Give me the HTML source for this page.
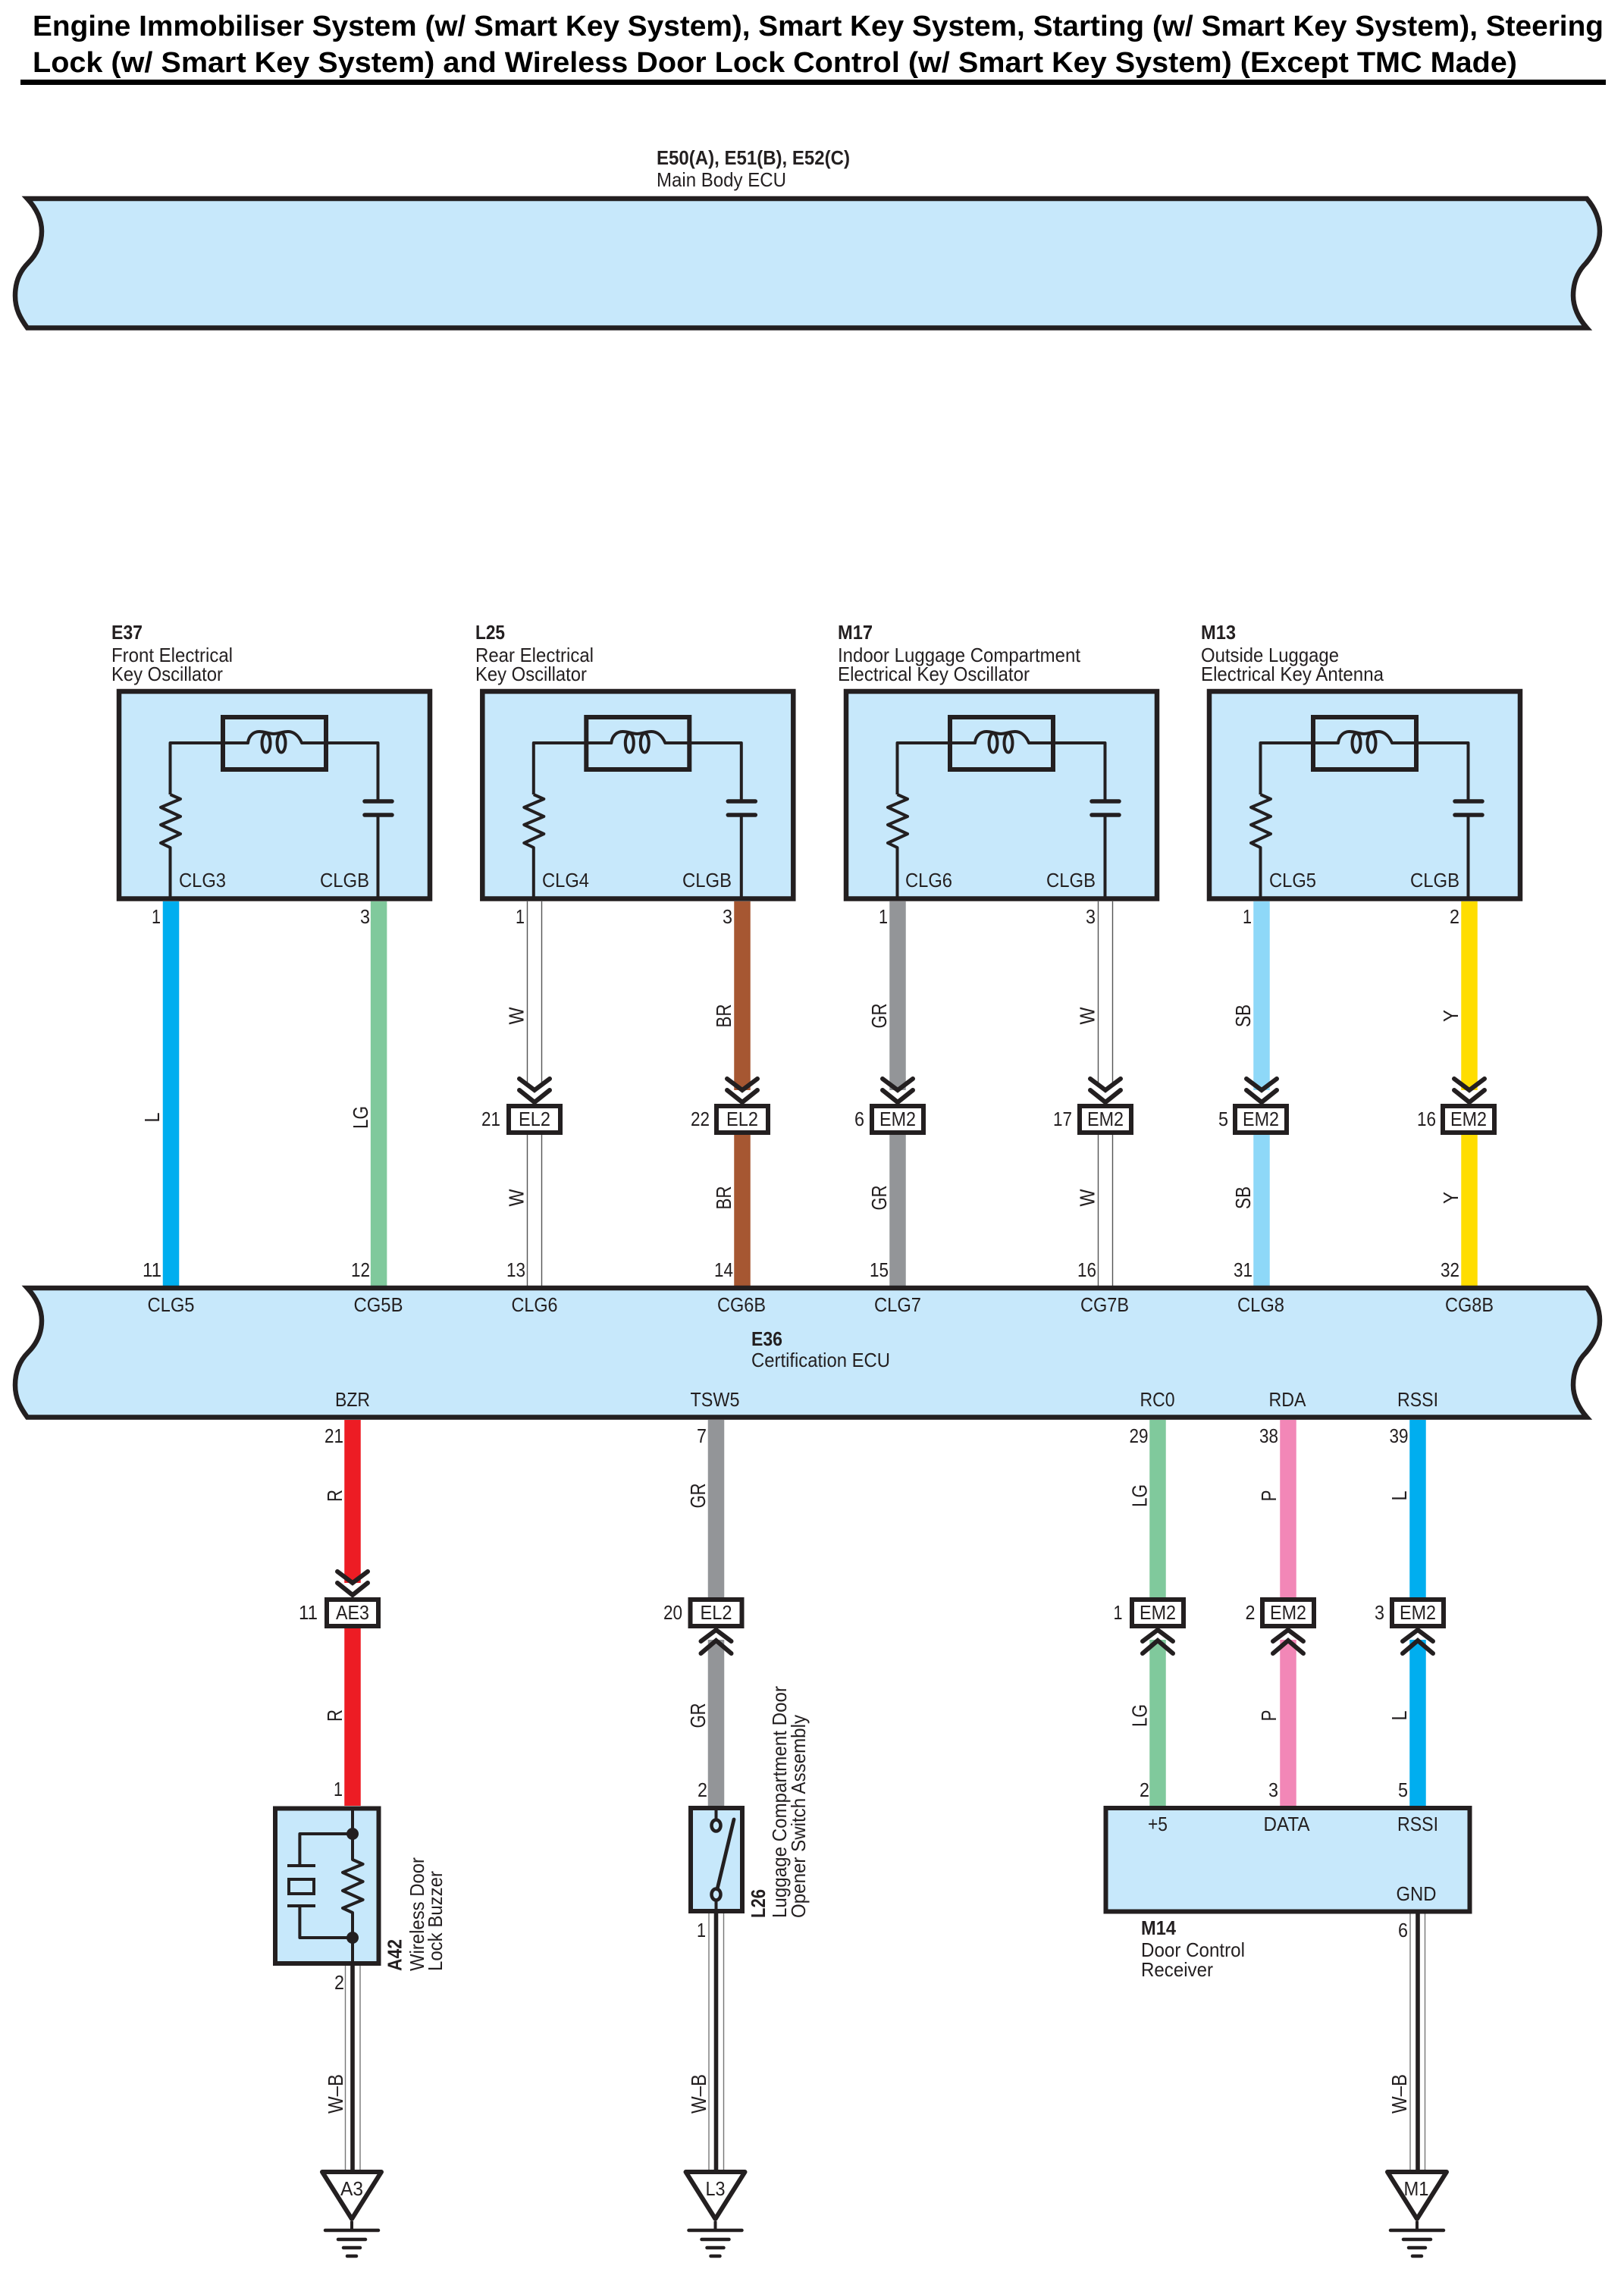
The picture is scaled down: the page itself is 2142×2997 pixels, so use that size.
<!DOCTYPE html>
<html><head><meta charset="utf-8"><title>Engine Immobiliser System wiring diagram</title>
<style>
html,body{margin:0;padding:0;background:#fff}
svg{display:block}
text{font-family:"Liberation Sans",Arial,sans-serif;font-size:26px;fill:#231f20}
.b{font-weight:bold}
.t{font-weight:bold;font-size:38px;fill:#000}
.e{text-anchor:end}
.m{text-anchor:middle}
.r{text-anchor:middle;font-size:28px}
.k{fill:none;stroke:#231f20;stroke-linejoin:round}
</style></head><body>
<svg xmlns="http://www.w3.org/2000/svg" width="2142" height="2997" viewBox="0 0 2142 2997">
<defs>
<path id="band" d="M36 262H2093C2104 275 2110 290 2110 305C2110 322 2102 335 2092 347C2081 358 2075 372 2075 390C2075 405 2082 420 2093 432.5H36C27 420 20 408 20 390C20 372 26 358 37 347C48 336 55 322 55 305C55 290 48 275 36 262Z" fill="#c7e8fb" stroke="#231f20" stroke-width="6.5" stroke-miterlimit="3"/>
<g id="chevd" fill="none" stroke="#231f20" stroke-width="6" stroke-linecap="round" stroke-linejoin="miter"><path d="M-20 0L0 15L20 0"/><path d="M-20 15L0 31L20 15"/></g>
<g id="chevu" fill="none" stroke="#231f20" stroke-width="6" stroke-linecap="round" stroke-linejoin="miter"><path d="M-20 15L0 0L20 15"/><path d="M-20 31L0 14L20 31"/></g>
<rect id="conn" x="-34" y="0" width="68" height="35" fill="#fff" stroke="#231f20" stroke-width="6"/>
<g id="osc">
<rect x="158" y="912" width="410" height="273.5" fill="#c7e8fb" stroke="#231f20" stroke-width="6.5"/>
<rect x="295" y="946" width="136" height="69" fill="none" stroke="#231f20" stroke-width="6"/>
<path class="k" stroke-width="4" d="M225.5 1048V980H328C329 970 336 965 343 965C350 965 356 968 362 968C368 968 374 965 381 965C388 965 395 970 399 980H499.5V1057M499.5 1075V1185"/>
<ellipse class="k" stroke-width="4" cx="352" cy="980" rx="5.5" ry="12.5"/>
<ellipse class="k" stroke-width="4" cx="372" cy="980" rx="5.5" ry="12.5"/>
<path class="k" stroke-width="4" d="M225.5 1048L239 1054L213 1065L239 1077L213 1088L239 1100L213 1112L225.5 1118V1185"/>
<path stroke="#231f20" stroke-width="5.5" stroke-linecap="round" d="M482 1057H518M482 1075H518"/>
</g>
<g id="gnd">
<path class="k" stroke-width="6" stroke-linejoin="miter" style="fill:#fff" d="M-39 -59H39L0 3Z"/>
<path stroke="#231f20" stroke-width="4" d="M0 6V18"/>
<path stroke="#231f20" stroke-width="4.5" stroke-linecap="round" d="M-35 18H35M-18 30H18M-11 41H11M-6 52H6"/>
</g>
</defs>

<!-- Title -->
<text class="t" x="43" y="47" textLength="2072" lengthAdjust="spacingAndGlyphs">Engine Immobiliser System (w/ Smart Key System), Smart Key System, Starting (w/ Smart Key System), Steering</text>
<text class="t" x="43" y="95" textLength="1958" lengthAdjust="spacingAndGlyphs">Lock (w/ Smart Key System) and Wireless Door Lock Control (w/ Smart Key System) (Except TMC Made)</text>
<rect x="27" y="105" width="2091" height="7" fill="#000"/>

<!-- Main Body ECU -->
<text class="b" x="866" y="217" textLength="255" lengthAdjust="spacingAndGlyphs">E50(A), E51(B), E52(C)</text>
<text x="866" y="246" textLength="171" lengthAdjust="spacingAndGlyphs">Main Body ECU</text>
<use href="#band"/>

<!-- Upper wires -->
<g stroke-width="21.5" fill="none">
<path stroke="#00aeef" d="M225.5 1189V1696"/>
<path stroke="#80c99c" d="M499.6 1189V1696"/>
<path stroke="#a65732" d="M979 1189V1438M979 1497V1696"/>
<path stroke="#939598" d="M1184 1189V1438M1184 1497V1696"/>
<path stroke="#8ed8f8" d="M1664 1189V1438M1664 1497V1696"/>
<path stroke="#ffdd00" d="M1938 1189V1438M1938 1497V1696"/>
</g>
<g stroke="#555" stroke-width="1.4" fill="none">
<path d="M695.5 1189V1430M695.5 1497V1696M714.5 1189V1430M714.5 1497V1696"/>
<path d="M1448.5 1189V1430M1448.5 1497V1696M1467.5 1189V1430M1467.5 1497V1696"/>
</g>

<!-- Oscillator boxes -->
<use href="#osc" transform="translate(-1 0)"/>
<use href="#osc" transform="translate(478.3 0)"/>
<use href="#osc" transform="translate(958 0)"/>
<use href="#osc" transform="translate(1437 0)"/>

<text class="b" x="147" y="843" textLength="41" lengthAdjust="spacingAndGlyphs">E37</text>
<text x="147" y="873" textLength="160" lengthAdjust="spacingAndGlyphs">Front Electrical</text>
<text x="147" y="898" textLength="147" lengthAdjust="spacingAndGlyphs">Key Oscillator</text>
<text class="b" x="627" y="843" textLength="39" lengthAdjust="spacingAndGlyphs">L25</text>
<text x="627" y="873" textLength="156" lengthAdjust="spacingAndGlyphs">Rear Electrical</text>
<text x="627" y="898" textLength="147" lengthAdjust="spacingAndGlyphs">Key Oscillator</text>
<text class="b" x="1105" y="843" textLength="46" lengthAdjust="spacingAndGlyphs">M17</text>
<text x="1105" y="873" textLength="320" lengthAdjust="spacingAndGlyphs">Indoor Luggage Compartment</text>
<text x="1105" y="898" textLength="253" lengthAdjust="spacingAndGlyphs">Electrical Key Oscillator</text>
<text class="b" x="1584" y="843" textLength="46" lengthAdjust="spacingAndGlyphs">M13</text>
<text x="1584" y="873" textLength="182" lengthAdjust="spacingAndGlyphs">Outside Luggage</text>
<text x="1584" y="898" textLength="241" lengthAdjust="spacingAndGlyphs">Electrical Key Antenna</text>

<g>
<text x="236" y="1170" textLength="62" lengthAdjust="spacingAndGlyphs">CLG3</text>
<text x="422" y="1170" textLength="65" lengthAdjust="spacingAndGlyphs">CLGB</text>
<text x="715" y="1170" textLength="62" lengthAdjust="spacingAndGlyphs">CLG4</text>
<text x="900" y="1170" textLength="65" lengthAdjust="spacingAndGlyphs">CLGB</text>
<text x="1194" y="1170" textLength="62" lengthAdjust="spacingAndGlyphs">CLG6</text>
<text x="1380" y="1170" textLength="65" lengthAdjust="spacingAndGlyphs">CLGB</text>
<text x="1674" y="1170" textLength="62" lengthAdjust="spacingAndGlyphs">CLG5</text>
<text x="1860" y="1170" textLength="65" lengthAdjust="spacingAndGlyphs">CLGB</text>
</g>

<!-- Pin numbers row 1 -->
<g>
<text class="e" x="212" y="1218" textLength="12" lengthAdjust="spacingAndGlyphs">1</text><text class="e" x="488" y="1218" textLength="13" lengthAdjust="spacingAndGlyphs">3</text>
<text class="e" x="692" y="1218" textLength="12" lengthAdjust="spacingAndGlyphs">1</text><text class="e" x="966" y="1218" textLength="13" lengthAdjust="spacingAndGlyphs">3</text>
<text class="e" x="1171" y="1218" textLength="12" lengthAdjust="spacingAndGlyphs">1</text><text class="e" x="1445" y="1218" textLength="13" lengthAdjust="spacingAndGlyphs">3</text>
<text class="e" x="1651" y="1218" textLength="12" lengthAdjust="spacingAndGlyphs">1</text><text class="e" x="1925" y="1218" textLength="13" lengthAdjust="spacingAndGlyphs">2</text>
<text class="e" x="660" y="1485" textLength="25" lengthAdjust="spacingAndGlyphs">21</text><text class="e" x="936" y="1485" textLength="25" lengthAdjust="spacingAndGlyphs">22</text>
<text class="e" x="1140" y="1485" textLength="13" lengthAdjust="spacingAndGlyphs">6</text><text class="e" x="1414" y="1485" textLength="25" lengthAdjust="spacingAndGlyphs">17</text>
<text class="e" x="1620" y="1485" textLength="13" lengthAdjust="spacingAndGlyphs">5</text><text class="e" x="1894" y="1485" textLength="25" lengthAdjust="spacingAndGlyphs">16</text>
<text class="e" x="213" y="1684" textLength="25" lengthAdjust="spacingAndGlyphs">11</text><text class="e" x="488" y="1684" textLength="25" lengthAdjust="spacingAndGlyphs">12</text>
<text class="e" x="693" y="1684" textLength="25" lengthAdjust="spacingAndGlyphs">13</text><text class="e" x="967" y="1684" textLength="25" lengthAdjust="spacingAndGlyphs">14</text>
<text class="e" x="1172" y="1684" textLength="25" lengthAdjust="spacingAndGlyphs">15</text><text class="e" x="1446" y="1684" textLength="25" lengthAdjust="spacingAndGlyphs">16</text>
<text class="e" x="1652" y="1684" textLength="25" lengthAdjust="spacingAndGlyphs">31</text><text class="e" x="1925" y="1684" textLength="25" lengthAdjust="spacingAndGlyphs">32</text>
</g>

<!-- Connectors row 1 -->
<use href="#conn" transform="translate(705 1459)"/><use href="#chevd" transform="translate(705 1423)"/>
<use href="#conn" transform="translate(979 1459)"/><use href="#chevd" transform="translate(979 1423)"/>
<use href="#conn" transform="translate(1184 1459)"/><use href="#chevd" transform="translate(1184 1423)"/>
<use href="#conn" transform="translate(1458 1459)"/><use href="#chevd" transform="translate(1458 1423)"/>
<use href="#conn" transform="translate(1663 1459)"/><use href="#chevd" transform="translate(1664 1423)"/>
<use href="#conn" transform="translate(1937 1459)"/><use href="#chevd" transform="translate(1938 1423)"/>
<text class="m" x="705" y="1485" textLength="42" lengthAdjust="spacingAndGlyphs">EL2</text>
<text class="m" x="979" y="1485" textLength="42" lengthAdjust="spacingAndGlyphs">EL2</text>
<text class="m" x="1184" y="1485" textLength="48" lengthAdjust="spacingAndGlyphs">EM2</text>
<text class="m" x="1458" y="1485" textLength="48" lengthAdjust="spacingAndGlyphs">EM2</text>
<text class="m" x="1663" y="1485" textLength="48" lengthAdjust="spacingAndGlyphs">EM2</text>
<text class="m" x="1937" y="1485" textLength="48" lengthAdjust="spacingAndGlyphs">EM2</text>

<!-- Rotated wire labels upper -->
<text class="r" transform="translate(210 1474) rotate(-90)" textLength="13" lengthAdjust="spacingAndGlyphs">L</text>
<text class="r" transform="translate(485 1474) rotate(-90)" textLength="30" lengthAdjust="spacingAndGlyphs">LG</text>
<text class="r" transform="translate(690.5 1340) rotate(-90)" textLength="23" lengthAdjust="spacingAndGlyphs">W</text>
<text class="r" transform="translate(690.5 1580) rotate(-90)" textLength="23" lengthAdjust="spacingAndGlyphs">W</text>
<text class="r" transform="translate(964 1340) rotate(-90)" textLength="31" lengthAdjust="spacingAndGlyphs">BR</text>
<text class="r" transform="translate(964 1580) rotate(-90)" textLength="31" lengthAdjust="spacingAndGlyphs">BR</text>
<text class="r" transform="translate(1169 1340) rotate(-90)" textLength="33" lengthAdjust="spacingAndGlyphs">GR</text>
<text class="r" transform="translate(1169 1580) rotate(-90)" textLength="33" lengthAdjust="spacingAndGlyphs">GR</text>
<text class="r" transform="translate(1443.5 1340) rotate(-90)" textLength="23" lengthAdjust="spacingAndGlyphs">W</text>
<text class="r" transform="translate(1443.5 1580) rotate(-90)" textLength="23" lengthAdjust="spacingAndGlyphs">W</text>
<text class="r" transform="translate(1649 1340) rotate(-90)" textLength="30" lengthAdjust="spacingAndGlyphs">SB</text>
<text class="r" transform="translate(1649 1580) rotate(-90)" textLength="30" lengthAdjust="spacingAndGlyphs">SB</text>
<text class="r" transform="translate(1923 1340) rotate(-90)" textLength="16" lengthAdjust="spacingAndGlyphs">Y</text>
<text class="r" transform="translate(1923 1580) rotate(-90)" textLength="16" lengthAdjust="spacingAndGlyphs">Y</text>

<!-- Lower wires -->
<g stroke-width="21.5" fill="none">
<path stroke="#ed1c24" d="M465 1873V2088M465 2147V2382"/>
<path stroke="#939598" d="M944.5 1873V2107M944.5 2163V2382"/>
<path stroke="#80c99c" d="M1527 1873V2107M1527 2163V2382"/>
<path stroke="#f287b7" d="M1699 1873V2107M1699 2163V2382"/>
<path stroke="#00aeef" d="M1870 1873V2107M1870 2163V2382"/>
</g>
<!-- W-B wires -->
<g stroke="#777" stroke-width="1.4" fill="none">
<path d="M455.5 2590V2862M475 2590V2862"/>
<path d="M935 2521V2862M954.5 2521V2862"/>
<path d="M1860 2521V2862M1879.5 2521V2862"/>
</g>
<g stroke="#231f20" stroke-width="5.6" fill="none">
<path d="M465 2590V2864M944.5 2521V2864M1870 2521V2864"/>
</g>

<!-- Certification ECU -->
<use href="#band" transform="translate(0 1437)"/>
<text class="m" x="225.5" y="1730" textLength="62" lengthAdjust="spacingAndGlyphs">CLG5</text>
<text class="m" x="499" y="1730" textLength="65" lengthAdjust="spacingAndGlyphs">CG5B</text>
<text class="m" x="705" y="1730" textLength="61" lengthAdjust="spacingAndGlyphs">CLG6</text>
<text class="m" x="978" y="1730" textLength="64" lengthAdjust="spacingAndGlyphs">CG6B</text>
<text class="m" x="1184" y="1730" textLength="62" lengthAdjust="spacingAndGlyphs">CLG7</text>
<text class="m" x="1457" y="1730" textLength="64" lengthAdjust="spacingAndGlyphs">CG7B</text>
<text class="m" x="1663" y="1730" textLength="62" lengthAdjust="spacingAndGlyphs">CLG8</text>
<text class="m" x="1938" y="1730" textLength="64" lengthAdjust="spacingAndGlyphs">CG8B</text>
<text class="b" x="991" y="1775" textLength="41" lengthAdjust="spacingAndGlyphs">E36</text>
<text x="991" y="1803" textLength="183" lengthAdjust="spacingAndGlyphs">Certification ECU</text>
<text class="m" x="465" y="1855" textLength="46" lengthAdjust="spacingAndGlyphs">BZR</text>
<text class="m" x="943" y="1855" textLength="65" lengthAdjust="spacingAndGlyphs">TSW5</text>
<text class="m" x="1526.5" y="1855" textLength="46" lengthAdjust="spacingAndGlyphs">RC0</text>
<text class="m" x="1698" y="1855" textLength="49" lengthAdjust="spacingAndGlyphs">RDA</text>
<text class="m" x="1870" y="1855" textLength="54" lengthAdjust="spacingAndGlyphs">RSSI</text>

<!-- Pin numbers row 2 -->
<text class="e" x="453" y="1903" textLength="25" lengthAdjust="spacingAndGlyphs">21</text>
<text class="e" x="932" y="1903" textLength="13" lengthAdjust="spacingAndGlyphs">7</text>
<text class="e" x="1514.5" y="1903" textLength="25" lengthAdjust="spacingAndGlyphs">29</text>
<text class="e" x="1686" y="1903" textLength="25" lengthAdjust="spacingAndGlyphs">38</text>
<text class="e" x="1857.5" y="1903" textLength="25" lengthAdjust="spacingAndGlyphs">39</text>

<!-- Connectors row 2 -->
<use href="#conn" transform="translate(465 2110)"/><use href="#chevd" transform="translate(465 2073)"/>
<use href="#conn" transform="translate(944.5 2110)"/><use href="#chevu" transform="translate(944.5 2150)"/>
<use href="#conn" transform="translate(1527 2110)"/><use href="#chevu" transform="translate(1527 2150)"/>
<use href="#conn" transform="translate(1699 2110)"/><use href="#chevu" transform="translate(1699 2150)"/>
<use href="#conn" transform="translate(1870 2110)"/><use href="#chevu" transform="translate(1870 2150)"/>
<text class="m" x="465" y="2136" textLength="44" lengthAdjust="spacingAndGlyphs">AE3</text>
<text class="m" x="944.5" y="2136" textLength="42" lengthAdjust="spacingAndGlyphs">EL2</text>
<text class="m" x="1527" y="2136" textLength="48" lengthAdjust="spacingAndGlyphs">EM2</text>
<text class="m" x="1699" y="2136" textLength="48" lengthAdjust="spacingAndGlyphs">EM2</text>
<text class="m" x="1870" y="2136" textLength="48" lengthAdjust="spacingAndGlyphs">EM2</text>
<text class="e" x="419" y="2136" textLength="25" lengthAdjust="spacingAndGlyphs">11</text>
<text class="e" x="900" y="2136" textLength="25" lengthAdjust="spacingAndGlyphs">20</text>
<text class="e" x="1480.5" y="2136" textLength="12" lengthAdjust="spacingAndGlyphs">1</text>
<text class="e" x="1655.5" y="2136" textLength="13" lengthAdjust="spacingAndGlyphs">2</text>
<text class="e" x="1826" y="2136" textLength="13" lengthAdjust="spacingAndGlyphs">3</text>

<!-- Rotated wire labels lower -->
<text class="r" transform="translate(451 1973) rotate(-90)" textLength="16" lengthAdjust="spacingAndGlyphs">R</text>
<text class="r" transform="translate(451 2263) rotate(-90)" textLength="16" lengthAdjust="spacingAndGlyphs">R</text>
<text class="r" transform="translate(930 1973) rotate(-90)" textLength="33" lengthAdjust="spacingAndGlyphs">GR</text>
<text class="r" transform="translate(930 2263) rotate(-90)" textLength="33" lengthAdjust="spacingAndGlyphs">GR</text>
<text class="r" transform="translate(1512.5 1973) rotate(-90)" textLength="30" lengthAdjust="spacingAndGlyphs">LG</text>
<text class="r" transform="translate(1512.5 2263) rotate(-90)" textLength="30" lengthAdjust="spacingAndGlyphs">LG</text>
<text class="r" transform="translate(1683 1973) rotate(-90)" textLength="15" lengthAdjust="spacingAndGlyphs">P</text>
<text class="r" transform="translate(1683 2263) rotate(-90)" textLength="15" lengthAdjust="spacingAndGlyphs">P</text>
<text class="r" transform="translate(1855 1973) rotate(-90)" textLength="13" lengthAdjust="spacingAndGlyphs">L</text>
<text class="r" transform="translate(1855 2263) rotate(-90)" textLength="13" lengthAdjust="spacingAndGlyphs">L</text>
<text class="r" transform="translate(452 2762) rotate(-90)" textLength="52" lengthAdjust="spacingAndGlyphs">W–B</text>
<text class="r" transform="translate(931 2762) rotate(-90)" textLength="52" lengthAdjust="spacingAndGlyphs">W–B</text>
<text class="r" transform="translate(1855 2762) rotate(-90)" textLength="52" lengthAdjust="spacingAndGlyphs">W–B</text>

<text class="e" x="452" y="2369" textLength="12" lengthAdjust="spacingAndGlyphs">1</text>
<text class="e" x="933" y="2370" textLength="13" lengthAdjust="spacingAndGlyphs">2</text>
<text class="e" x="1516" y="2370" textLength="13" lengthAdjust="spacingAndGlyphs">2</text>
<text class="e" x="1686" y="2370" textLength="13" lengthAdjust="spacingAndGlyphs">3</text>
<text class="e" x="1857" y="2370" textLength="13" lengthAdjust="spacingAndGlyphs">5</text>
<text class="e" x="454" y="2624" textLength="13" lengthAdjust="spacingAndGlyphs">2</text>
<text class="e" x="931" y="2555" textLength="12" lengthAdjust="spacingAndGlyphs">1</text>
<text class="e" x="1857" y="2555" textLength="13" lengthAdjust="spacingAndGlyphs">6</text>

<!-- Buzzer A42 -->
<rect x="363" y="2385.5" width="136.5" height="204.5" fill="#c7e8fb" stroke="#231f20" stroke-width="6"/>
<path class="k" stroke-width="4" d="M465 2385V2453L478.6 2459L452 2470L478.6 2482L452 2494L478.6 2506L452 2517L465 2523V2590"/>
<path class="k" stroke-width="4" d="M465 2419H395.4V2461M379 2461H416M379 2514H416M395.4 2514V2556H465"/>
<rect x="381" y="2479" width="33" height="19" fill="none" stroke="#231f20" stroke-width="4"/>
<circle cx="465" cy="2419" r="8" fill="#231f20"/>
<circle cx="465" cy="2556" r="8" fill="#231f20"/>
<text class="b" transform="translate(529.5 2600) rotate(-90)" textLength="42" lengthAdjust="spacingAndGlyphs">A42</text>
<text transform="translate(559 2600) rotate(-90)" textLength="150" lengthAdjust="spacingAndGlyphs">Wireless Door</text>
<text transform="translate(583 2600) rotate(-90)" textLength="132" lengthAdjust="spacingAndGlyphs">Lock Buzzer</text>

<!-- Switch L26 -->
<rect x="911" y="2385" width="68" height="136" fill="#c7e8fb" stroke="#231f20" stroke-width="6"/>
<path class="k" stroke-width="4" d="M944.5 2385V2400M944.5 2507V2521"/>
<ellipse cx="944.5" cy="2408" rx="6" ry="7.5" fill="#c7e8fb" stroke="#231f20" stroke-width="4.5"/>
<ellipse cx="944.5" cy="2499" rx="6" ry="7.5" fill="#c7e8fb" stroke="#231f20" stroke-width="4.5"/>
<path stroke="#231f20" stroke-width="4.8" stroke-linecap="round" d="M968 2400L946 2492"/>
<text class="b" transform="translate(1009 2530) rotate(-90)" textLength="38" lengthAdjust="spacingAndGlyphs">L26</text>
<text transform="translate(1037 2530) rotate(-90)" textLength="306" lengthAdjust="spacingAndGlyphs">Luggage Compartment Door</text>
<text transform="translate(1062 2530) rotate(-90)" textLength="268" lengthAdjust="spacingAndGlyphs">Opener Switch Assembly</text>

<!-- M14 -->
<rect x="1458.5" y="2385" width="480" height="136.5" fill="#c7e8fb" stroke="#231f20" stroke-width="6"/>
<text class="m" x="1527" y="2415" textLength="26" lengthAdjust="spacingAndGlyphs">+5</text>
<text class="m" x="1697" y="2415" textLength="61" lengthAdjust="spacingAndGlyphs">DATA</text>
<text class="m" x="1870" y="2415" textLength="54" lengthAdjust="spacingAndGlyphs">RSSI</text>
<text class="m" x="1868" y="2507" textLength="53" lengthAdjust="spacingAndGlyphs">GND</text>
<text class="b" x="1505" y="2552" textLength="46" lengthAdjust="spacingAndGlyphs">M14</text>
<text x="1505" y="2581" textLength="137" lengthAdjust="spacingAndGlyphs">Door Control</text>
<text x="1505" y="2607" textLength="95" lengthAdjust="spacingAndGlyphs">Receiver</text>

<!-- Grounds -->
<use href="#gnd" transform="translate(464 2924)"/>
<use href="#gnd" transform="translate(943.5 2924)"/>
<use href="#gnd" transform="translate(1869 2924)"/>
<text class="m" x="464" y="2896" textLength="30" lengthAdjust="spacingAndGlyphs">A3</text>
<text class="m" x="943.5" y="2896" textLength="26" lengthAdjust="spacingAndGlyphs">L3</text>
<text class="m" x="1868" y="2896" textLength="33" lengthAdjust="spacingAndGlyphs">M1</text>
</svg>
</body></html>
